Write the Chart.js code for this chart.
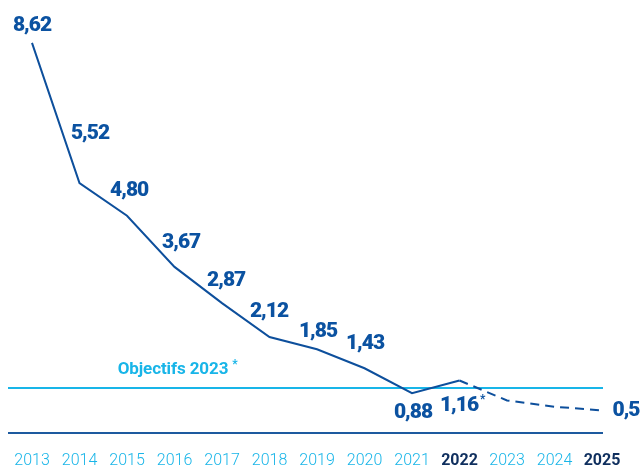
<!DOCTYPE html>
<html>
<head>
<meta charset="utf-8">
<script src="https://cdn.jsdelivr.net/npm/chart.js@4"></script>
<style>
  html, body { margin: 0; padding: 0; background: #ffffff; }
  #wrap { width: 642px; height: 466px; position: relative; }
</style>
</head>
<body>
<div id="wrap"><canvas id="chart"></canvas></div>
<script>
// Years on the horizontal axis
const years = ['2013', '2014', '2015', '2016', '2017', '2018', '2019', '2020', '2021', '2022', '2023', '2024', '2025'];
// Measured values (solid line)
const measured = [8.62, 5.52, 4.80, 3.67, 2.87, 2.12, 1.85, 1.43, 0.88, 1.16, null, null, null];
// Trajectory towards the 2025 target (dashed line)
const trajectory = [null, null, null, null, null, null, null, null, null, 1.16, 0.72, 0.58, 0.5];
// 2023 objective level
const objective2023 = 1.0;
const objectiveLabel = 'Objectifs 2023';
// Years shown in bold dark blue on the axis
const highlightedYears = ['2022', '2025'];

const DARK = '#0d4f9c';
const LABEL = '#0b52a1';
const NAVY = '#0f2f5e';
const LIGHT = '#18b5e8';
const AXIS = '#1d5a9f';

// Label placement around each point (pixels, relative to the point)
const labelOffsets = {
  0: [0, -19], 1: [10.5, -52], 2: [2.2, -27], 3: [6.7, -26], 4: [4.2, -24.5],
  5: [-0.5, -27.6], 6: [1, -20], 7: [0.5, -27], 8: [1, 17.5], 9: [-0.5, 23], 12: [24, -2]
};

function fr(v, decimals) {
  return v.toFixed(decimals).replace('.', ',');
}

const decor = {
  id: 'decor',
  beforeDatasetsDraw(chart) {
    const { ctx, chartArea, scales: { y } } = chart;
    const x0 = chartArea.left - 24;
    const x1 = chartArea.right + 1;
    ctx.save();
    ctx.lineWidth = 2;
    ctx.strokeStyle = LIGHT;
    const yo = Math.round(y.getPixelForValue(objective2023));
    ctx.beginPath(); ctx.moveTo(x0, yo); ctx.lineTo(x1, yo); ctx.stroke();
    ctx.strokeStyle = AXIS;
    const yz = Math.round(y.getPixelForValue(0));
    ctx.beginPath(); ctx.moveTo(x0, yz); ctx.lineTo(x1, yz); ctx.stroke();
    ctx.restore();
  },
  afterDatasetsDraw(chart) {
    const { ctx, scales: { x, y } } = chart;
    ctx.save();
    // objective caption
    ctx.font = 'bold 17px Roboto';
    ctx.letterSpacing = '-0.1px';
    ctx.fillStyle = LIGHT;
    ctx.textAlign = 'center';
    ctx.textBaseline = 'alphabetic';
    const ox = x.getPixelForValue(2) + 46;
    const oy = y.getPixelForValue(objective2023) - 20 + 6;
    ctx.fillText(objectiveLabel, ox, oy);
    const ow = ctx.measureText(objectiveLabel).width;
    ctx.font = 'bold 12px Roboto';
    ctx.textAlign = 'left';
    ctx.fillText('*', ox + ow / 2 + 4, oy - 6);

    // value labels
    ctx.fillStyle = LABEL;
    ctx.letterSpacing = '-1px';
    const cap = 7.5;
    measured.forEach((v, i) => {
      if (v === null || !labelOffsets[i]) return;
      const [dx, dy] = labelOffsets[i];
      const px = x.getPixelForValue(i) + dx;
      const py = y.getPixelForValue(v) + dy + cap;
      ctx.font = '900 21px Roboto';
      ctx.textAlign = 'center';
      const txt = fr(v, 2);
      ctx.fillText(txt, px, py);
      if (i === 9) {
        const w = ctx.measureText(txt).width;
        ctx.font = 'bold 12px Roboto';
        ctx.textAlign = 'left';
        ctx.fillText('*', px + w / 2 + 2, py - 8);
      }
    });
    const last = trajectory.length - 1;
    const tv = trajectory[last];
    const [tdx, tdy] = labelOffsets[last];
    ctx.font = '900 21px Roboto';
    ctx.textAlign = 'center';
    ctx.fillText(fr(tv, 1), x.getPixelForValue(last) + tdx, y.getPixelForValue(tv) + tdy + cap);
    ctx.restore();
  }
};

new Chart(document.getElementById('chart'), {
  type: 'line',
  data: {
    labels: years,
    datasets: [
      {
        data: measured,
        borderColor: DARK,
        borderWidth: 2,
        pointRadius: 0,
        tension: 0,
        spanGaps: false
      },
      {
        data: trajectory,
        borderColor: DARK,
        borderWidth: 2,
        borderDash: [9, 6],
        pointRadius: 0,
        tension: 0
      }
    ]
  },
  options: {
    responsive: true,
    maintainAspectRatio: false,
    animation: false,
    events: [],
    layout: { padding: { left: 32, right: 40, top: 3, bottom: 0 } },
    plugins: { legend: { display: false }, tooltip: { enabled: false } },
    scales: {
      x: {
        offset: false,
        grid: { display: false, drawTicks: false },
        border: { display: false },
        afterFit(scale) {
          scale.height = 33;
          scale.paddingLeft = 0;
          scale.paddingRight = 0;
        },
        ticks: {
          padding: 18,
          maxRotation: 0,
          autoSkip: false,
          color: ctx => highlightedYears.includes(years[ctx.index]) ? NAVY : LIGHT,
          font: ctx => highlightedYears.includes(years[ctx.index])
            ? { family: 'Roboto', size: 16, weight: 'bold' }
            : { family: 'Roboto', size: 16, weight: '300' }
        }
      },
      y: {
        display: false,
        min: 0,
        max: 9.5
      }
    }
  },
  plugins: [decor]
});
</script>
</body>
</html>
